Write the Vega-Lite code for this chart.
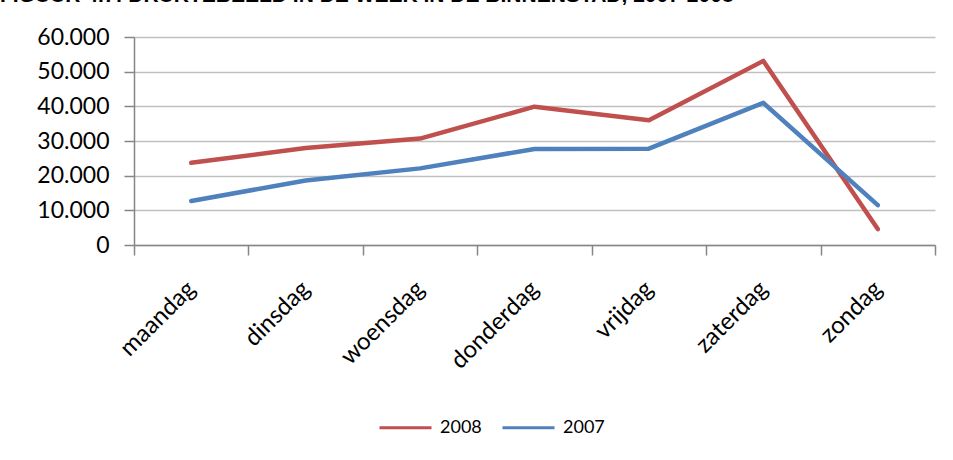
{
  "$schema": "https://vega.github.io/schema/vega-lite/v6.json",
  "autosize": "none",
  "width": 801,
  "height": 208,
  "padding": {"left": 134, "top": 37, "right": 18, "bottom": 215},
  "background": "white",
  "title": {
    "text": "FIGUUR 4.7: DRUKTEBEELD IN DE WEEK IN DE BINNENSTAD, 2007-2008",
    "anchor": "start",
    "frame": "group",
    "dx": -134,
    "offset": 3,
    "baseline": "alphabetic",
    "font": "Liberation Sans",
    "fontSize": 21,
    "fontWeight": "bold",
    "color": "#000000"
  },
  "config": {
    "view": {"stroke": null},
    "font": "Lato"
  },
  "data": {
    "values": [
      {"dag": "maandag", "jaar": "2008", "aantal": 23700},
      {"dag": "dinsdag", "jaar": "2008", "aantal": 28000},
      {"dag": "woensdag", "jaar": "2008", "aantal": 30700},
      {"dag": "donderdag", "jaar": "2008", "aantal": 39900},
      {"dag": "vrijdag", "jaar": "2008", "aantal": 36000},
      {"dag": "zaterdag", "jaar": "2008", "aantal": 53100},
      {"dag": "zondag", "jaar": "2008", "aantal": 4600},
      {"dag": "maandag", "jaar": "2007", "aantal": 12700},
      {"dag": "dinsdag", "jaar": "2007", "aantal": 18600},
      {"dag": "woensdag", "jaar": "2007", "aantal": 22100},
      {"dag": "donderdag", "jaar": "2007", "aantal": 27700},
      {"dag": "vrijdag", "jaar": "2007", "aantal": 27800},
      {"dag": "zaterdag", "jaar": "2007", "aantal": 41000},
      {"dag": "zondag", "jaar": "2007", "aantal": 11500}
    ]
  },
  "mark": {"type": "line", "strokeWidth": 4.5, "strokeCap": "round", "strokeJoin": "round"},
  "encoding": {
    "x": {
      "field": "dag",
      "type": "nominal",
      "sort": ["maandag", "dinsdag", "woensdag", "donderdag", "vrijdag", "zaterdag", "zondag"],
      "scale": {"type": "band", "paddingInner": 0, "paddingOuter": 0},
      "axis": {
        "title": null,
        "tickBand": "extent",
        "labelAngle": -45,
        "labelAlign": "right",
        "labelBaseline": "middle",
        "labelPadding": 30,
        "labelFontSize": 24,
        "labelColor": "#000000",
        "labelFont": "Lato",
        "domainColor": "#868686",
        "domainWidth": 1.5,
        "tickColor": "#868686",
        "tickWidth": 1.5,
        "tickSize": 10,
        "grid": false
      }
    },
    "y": {
      "field": "aantal",
      "type": "quantitative",
      "scale": {"domain": [0, 60000], "nice": false},
      "axis": {
        "title": null,
        "values": [0, 10000, 20000, 30000, 40000, 50000, 60000],
        "labelExpr": "replace(format(datum.value, ','), ',', '.')",
        "labelFontSize": 23,
        "labelColor": "#000000",
        "labelFont": "Lato",
        "labelPadding": 15,
        "domainColor": "#868686",
        "domainWidth": 1.5,
        "tickColor": "#868686",
        "tickWidth": 1.5,
        "tickSize": 10,
        "grid": true,
        "gridColor": "#c0c0c0",
        "gridWidth": 1.5
      }
    },
    "color": {
      "field": "jaar",
      "type": "nominal",
      "sort": ["2008", "2007"],
      "scale": {"domain": ["2008", "2007"], "range": ["#C0504D", "#4F81BD"]},
      "legend": {
        "title": null,
        "orient": "none",
        "direction": "horizontal",
        "legendX": 244,
        "legendY": 363,
        "symbolType": "stroke",
        "symbolSize": 2704,
        "symbolStrokeWidth": 3,
        "labelFontSize": 18,
        "labelFont": "Lato",
        "labelColor": "#000000",
        "labelOffset": 7,
        "columnPadding": 14
      }
    }
  }
}
